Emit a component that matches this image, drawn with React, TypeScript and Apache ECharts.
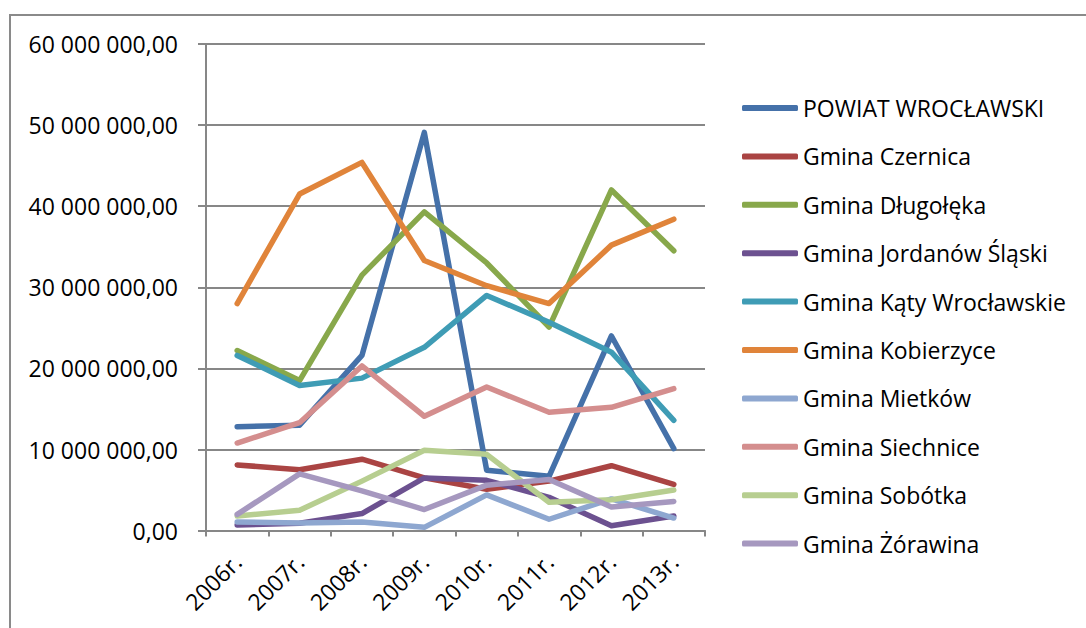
import React, { useEffect, useRef } from "react";
import * as echarts from "echarts";

const categories = ["2006r.", "2007r.", "2008r.", "2009r.", "2010r.", "2011r.", "2012r.", "2013r."];

const seriesNames = [
  "POWIAT WROCŁAWSKI",
  "Gmina Czernica",
  "Gmina Długołęka",
  "Gmina Jordanów Śląski",
  "Gmina Kąty Wrocławskie",
  "Gmina Kobierzyce",
  "Gmina Mietków",
  "Gmina Siechnice",
  "Gmina Sobótka",
  "Gmina Żórawina",
];

const powiat = [12.8, 13.0, 21.6, 49.1, 7.45, 6.7, 24.0, 10.1];
const czernica = [8.1, 7.5, 8.8, 6.5, 5.1, 6.1, 8.0, 5.7];
const dlugoleka = [22.2, 18.5, 31.5, 39.3, 33.0, 25.1, 42.0, 34.5];
const jordanow = [0.7, 0.9, 2.1, 6.5, 6.2, 4.1, 0.6, 1.8];
const katy = [21.6, 17.9, 18.8, 22.6, 29.0, 25.7, 22.0, 13.6];
const kobierzyce = [28.0, 41.5, 45.4, 33.3, 30.2, 28.0, 35.2, 38.4];
const mietkow = [1.05, 0.95, 1.05, 0.4, 4.4, 1.4, 3.9, 1.55];
const siechnice = [10.8, 13.3, 20.3, 14.1, 17.7, 14.6, 15.2, 17.5];
const sobotka = [1.8, 2.5, 6.1, 9.9, 9.4, 3.5, 3.8, 5.0];
const zorawina = [2.0, 7.0, 4.9, 2.6, 5.6, 6.3, 2.9, 3.6];

const seriesValues = [powiat, czernica, dlugoleka, jordanow, katy, kobierzyce, mietkow, siechnice, sobotka, zorawina];

const colors = [
  "#4571A9",
  "#AA4443",
  "#88A84B",
  "#6C5190",
  "#3F9CB5",
  "#E0843A",
  "#8EA7D0",
  "#D48E8E",
  "#B7CE90",
  "#A698BF",
];

const MILLION = 1000000;

function formatPl(v: number): string {
  const s = Math.round(v).toString();
  const withSpaces = s.replace(/\B(?=(\d{3})+(?!\d))/g, " ");
  return withSpaces + ",00";
}

const FONT = "Open Sans";
const FS = 23;

export default function App() {
  const ref = useRef<HTMLDivElement>(null);

  useEffect(() => {
    if (!ref.current) return;
    const chart = echarts.init(ref.current, undefined, { renderer: "svg" });
    const option: any = {
      animation: false,
      backgroundColor: "#ffffff",
      color: colors,
      textStyle: { fontFamily: FONT },
      grid: { left: 206, right: 381, top: 44, bottom: 97.4, containLabel: false },
      graphic: [
        {
          type: "rect",
          shape: { x: 10, y: 15, width: 1200, height: 800 },
          style: { fill: "none", stroke: "#8a8a8a", lineWidth: 2 },
          silent: true,
        },
      ],
      legend: {
        orient: "vertical",
        left: 742,
        top: 96,
        padding: 0,
        itemWidth: 56,
        itemHeight: 6,
        itemGap: 24.4,
        icon: "roundRect",
        data: seriesNames,
        textStyle: { fontFamily: FONT, fontSize: FS, color: "#000", lineHeight: 24 },
      },
      xAxis: {
        type: "category",
        data: categories,
        boundaryGap: true,
        axisLine: { lineStyle: { color: "#878787", width: 2 } },
        axisTick: { show: true, length: 6, lineStyle: { color: "#878787", width: 2 } },
        axisLabel: {
          rotate: 45,
          interval: 0,
          margin: 27,
          color: "#000",
          fontFamily: FONT,
          fontSize: FS,
        },
        splitLine: { show: false },
      },
      yAxis: {
        type: "value",
        min: 0,
        max: 60 * MILLION,
        interval: 10 * MILLION,
        axisLine: { show: true, lineStyle: { color: "#878787", width: 2 } },
        axisTick: { show: true, length: 8, lineStyle: { color: "#878787", width: 2 } },
        axisLabel: {
          margin: 28,
          color: "#000",
          fontFamily: FONT,
          fontSize: FS,
          formatter: (v: number) => formatPl(v),
        },
        splitLine: { show: true, lineStyle: { color: "#878787", width: 2 } },
      },
      series: seriesNames.map((name, i) => ({
        name,
        type: "line",
        data: seriesValues[i].map((v) => v * MILLION),
        showSymbol: false,
        symbol: "none",
        lineStyle: { width: 5.5, color: colors[i], cap: "round", join: "round" },
        itemStyle: { color: colors[i] },
        emphasis: { disabled: true },
      })),
    };
    chart.setOption(option);
    return () => chart.dispose();
  }, []);

  return (
    <div
      ref={ref}
      style={{ position: "fixed", left: 0, top: 0, width: 1086, height: 628, background: "#fff" }}
    />
  );
}
